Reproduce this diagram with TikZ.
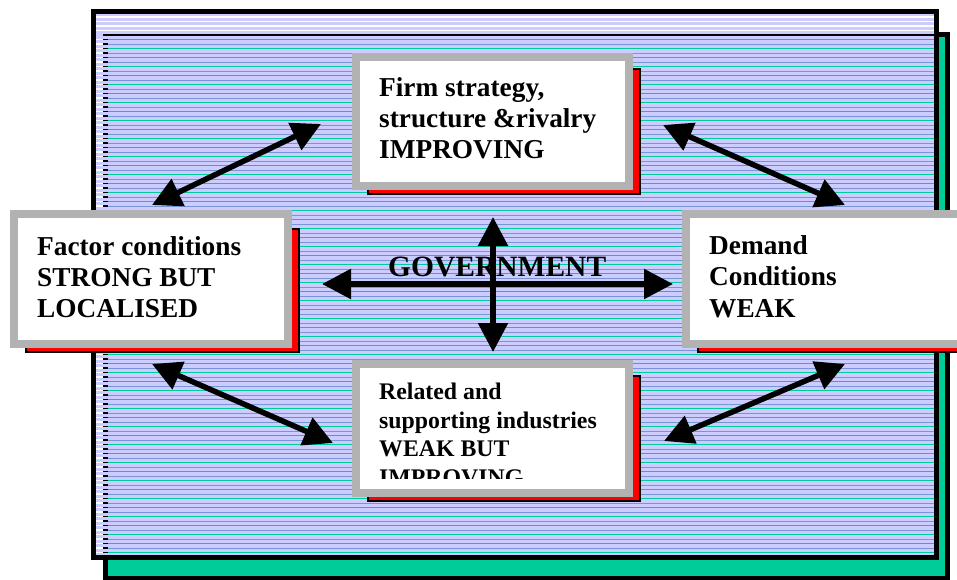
\documentclass[tikz,border=0pt]{standalone}
\usepackage{fontspec}
\setmainfont{Liberation Serif}
\usetikzlibrary{arrows.meta}
\definecolor{lav}{RGB}{204,204,255}
\definecolor{sgreen}{RGB}{0,204,153}
\definecolor{sblue}{RGB}{120,150,215}
\definecolor{bgray}{RGB}{178,178,178}
\tikzset{
  boxtxt/.style={anchor=base west, inner sep=0pt, font=\fontsize{27.3}{31}\selectfont\bfseries},
  smalltxt/.style={anchor=base west, inner sep=0pt, font=\fontsize{23.8}{28}\selectfont\bfseries},
  govtxt/.style={anchor=base west, inner sep=0pt, font=\fontsize{29.5}{34}\selectfont\bfseries},
  dbl/.style={line width=5.5pt, {Triangle[length=29pt,width=29pt]}-{Triangle[length=29pt,width=29pt]}},
  panel/.style={draw=bgray, line width=8pt, fill=white},
  redshadow/.style={draw=black, line width=2pt, fill=red},
  frame/.style={draw=black, line width=5pt, fill=lav},
  greenshadow/.style={draw=black, line width=4.5pt, fill=sgreen},
}
\begin{document}
\begin{tikzpicture}[x=1pt,y=-1pt]
\useasboundingbox (0,0) rectangle (957,579);
\clip (0,0) rectangle (957,579);
% green shadow and main frame
\draw[greenshadow] (105.5,34.5) rectangle (947.5,578);
\draw[frame] (93.5,11.5) rectangle (936.5,557.5);
% top band white lines
\foreach \k in {0,...,3}
  \draw[white, line width=1.2pt] (96,{17+4.5*\k}) -- (934,{17+4.5*\k});
\draw[black, line width=1.5pt] (103,35) -- (934,35);
% left band and ticks
\foreach \k in {5,...,119}{
  \draw[white, line width=1.2pt] (96,{17+4.5*\k}) -- (103,{17+4.5*\k});
  \draw[black, line width=1.2pt] (103,{17+4.5*\k}) -- (108,{17+4.5*\k});
}
\foreach \k in {5,7,...,119}
  \draw[sgreen, line width=1.4pt] (108,{17+4.5*\k}) -- (934,{17+4.5*\k});
\foreach \k in {6,8,...,118}
  \draw[sblue, line width=1pt] (108,{17+4.5*\k}) -- (934,{17+4.5*\k});

% arrow end points
\coordinate (tlA) at (152,205);
\coordinate (tlB) at (321,124);
\coordinate (trA) at (663,125);
\coordinate (trB) at (845,205);
\coordinate (blA) at (152,364);
\coordinate (blB) at (333,443);
\coordinate (brA) at (664,441);
\coordinate (brB) at (845,364);
\coordinate (hL) at (322,284);
\coordinate (hR) at (673,284);
\coordinate (vT) at (493,217);
\coordinate (vB) at (493,352);

\draw[dbl] (tlA) -- (tlB);
\draw[dbl] (trA) -- (trB);
\draw[dbl] (blA) -- (blB);
\draw[dbl] (brA) -- (brB);

% top box
\draw[redshadow] (368,69) rectangle (640,194);
\draw[panel] (356,57) rectangle (629,186);
\node[boxtxt] (t1) at (379,96) {Firm strategy,};
\node[boxtxt] (t2) at (379,127) {structure \&rivalry};
\node[boxtxt] (t3) at (379,158) {IMPROVING};

% left box
\draw[redshadow] (26,229) rectangle (299,352);
\draw[panel] (14,214) rectangle (288,344);
\node[boxtxt] (l1) at (37,255) {Factor conditions};
\node[boxtxt] (l2) at (37,286) {STRONG BUT};
\node[boxtxt] (l3) at (37,317) {LOCALISED};

% right box
\draw[redshadow] (698,229) rectangle (975,352);
\draw[panel] (686,214) rectangle (975,344);
\node[boxtxt] (r1) at (709,254) {Demand};
\node[boxtxt] (r2) at (709,285) {Conditions};
\node[boxtxt] (r3) at (709,317) {WEAK};

% bottom box
\draw[redshadow] (368,376) rectangle (640,501);
\draw[panel] (356,364) rectangle (629,493);
\begin{scope}
\clip (360,367) rectangle (625,478);
\node[smalltxt] (b1) at (379,399) {Related and};
\node[smalltxt] (b2) at (379,428) {supporting industries};
\node[smalltxt] (b3) at (379,456) {WEAK BUT};
\node[smalltxt] (b4) at (379,485) {IMPROVING};
\end{scope}

% government
\node[govtxt] (gov) at (388,276) {GOVERNMENT};
\draw[dbl] (hL) -- (hR);
\draw[dbl] (vT) -- (vB);
\end{tikzpicture}
\end{document}
